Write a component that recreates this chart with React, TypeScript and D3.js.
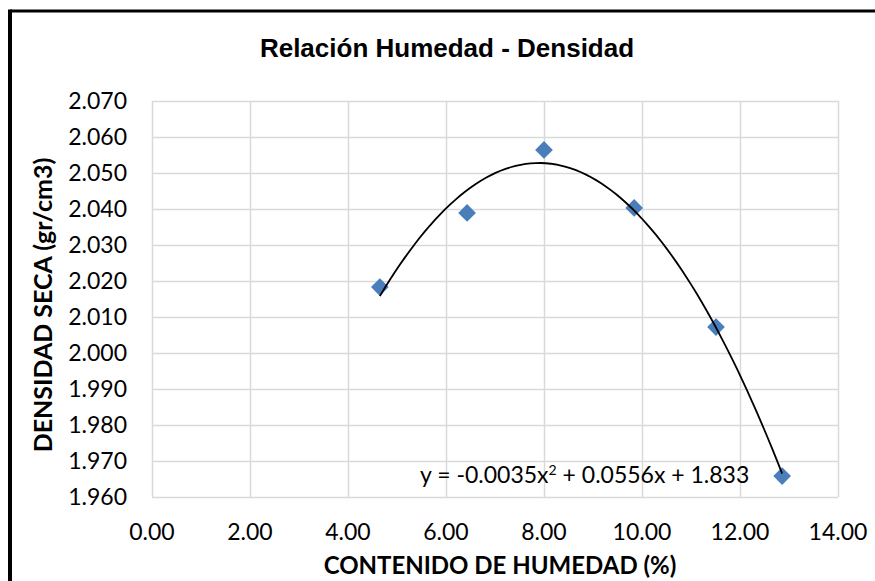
import React from "react";
import * as d3 from "d3";

// measured points (humedad %, densidad seca)
const humedad = [4.65, 6.43, 8.0, 9.84, 11.51, 12.86];
const densidad = [2.0183, 2.0389, 2.0564, 2.0403, 2.0072, 1.9658];

const xTicks = [0, 2, 4, 6, 8, 10, 12, 14];
const yTicks = [1.96, 1.97, 1.98, 1.99, 2.0, 2.01, 2.02, 2.03, 2.04, 2.05, 2.06, 2.07];

const W = 875;
const H = 581;
const plot = { left: 152, right: 838, top: 101, bottom: 497 };

// least squares quadratic fit, like the spreadsheet trendline
function fitQuadratic(xs: number[], ys: number[]) {
  const s = [0, 0, 0, 0, 0];
  const t = [0, 0, 0];
  xs.forEach((xv, i) => {
    for (let k = 0; k < 5; k++) s[k] += Math.pow(xv, k);
    for (let k = 0; k < 3; k++) t[k] += ys[i] * Math.pow(xv, k);
  });
  // matrix for [c, b, a]
  const m = [
    [s[0], s[1], s[2], t[0]],
    [s[1], s[2], s[3], t[1]],
    [s[2], s[3], s[4], t[2]],
  ];
  for (let i = 0; i < 3; i++) {
    for (let j = i + 1; j < 3; j++) {
      const f = m[j][i] / m[i][i];
      for (let k = i; k < 4; k++) m[j][k] -= f * m[i][k];
    }
  }
  const r = [0, 0, 0];
  for (let i = 2; i >= 0; i--) {
    let v = m[i][3];
    for (let k = i + 1; k < 3; k++) v -= m[i][k] * r[k];
    r[i] = v / m[i][i];
  }
  return { c: r[0], b: r[1], a: r[2] };
}

export default function App() {
  const x = d3.scaleLinear().domain([0, 14]).range([plot.left, plot.right]);
  const y = d3.scaleLinear().domain([1.96, 2.07]).range([plot.bottom, plot.top]);

  const fit = fitQuadratic(humedad, densidad);
  const x0 = d3.min(humedad) as number;
  const x1 = d3.max(humedad) as number;
  const trend = d3.range(0, 81).map((i) => {
    const xv = x0 + ((x1 - x0) * i) / 80;
    return [xv, fit.a * xv * xv + fit.b * xv + fit.c];
  });
  const line = d3
    .line<number[]>()
    .x((d) => x(d[0]))
    .y((d) => y(d[1]));

  const diamond = d3.symbol().type(d3.symbolDiamond2).size(200)();

  const tickFont = "Lato, 'Open Sans', sans-serif";

  return (
    <svg
      width={W}
      height={H}
      style={{ position: "absolute", left: 0, top: 0, background: "#fff" }}
    >
      {/* outer frame */}
      <rect x={0} y={0} width={W} height={H} fill="#fff" />
      <line x1={10} y1={11} x2={W} y2={11} stroke="#000" strokeWidth={3} />
      <line x1={10} y1={9.5} x2={10} y2={H} stroke="#000" strokeWidth={4} />

      <text
        x={447}
        y={57}
        textAnchor="middle"
        fontFamily="Arial, 'Liberation Sans', sans-serif"
        fontWeight="bold"
        fontSize={26}
      >
        Relación Humedad - Densidad
      </text>

      {/* grid */}
      {yTicks.map((t) => (
        <line
          key={"gy" + t}
          x1={plot.left}
          x2={plot.right}
          y1={Math.round(y(t)) + 0.5}
          y2={Math.round(y(t)) + 0.5}
          stroke="#d9d9d9"
          strokeWidth={1.5}
        />
      ))}
      {xTicks.map((t) => (
        <line
          key={"gx" + t}
          x1={Math.round(x(t)) + 0.5}
          x2={Math.round(x(t)) + 0.5}
          y1={plot.top}
          y2={plot.bottom}
          stroke="#d9d9d9"
          strokeWidth={1.5}
        />
      ))}

      {/* tick labels */}
      {yTicks.map((t) => (
        <text
          key={"ly" + t}
          x={127}
          y={y(t)}
          dy="0.35em"
          textAnchor="end"
          fontFamily={tickFont}
          fontSize={23}
        >
          {d3.format(".3f")(t)}
        </text>
      ))}
      {xTicks.map((t) => (
        <text
          key={"lx" + t}
          x={x(t)}
          y={532}
          dy="0.35em"
          textAnchor="middle"
          fontFamily={tickFont}
          fontSize={23}
        >
          {d3.format(".2f")(t)}
        </text>
      ))}

      {/* axis titles */}
      <text
        x={500}
        y={566}
        dy="0.35em"
        textAnchor="middle"
        fontFamily={tickFont}
        fontWeight="bold"
        fontSize={24}
      >
        CONTENIDO DE HUMEDAD (%)
      </text>
      <text
        transform={`translate(43, 305) rotate(-90)`}
        dy="0.35em"
        textAnchor="middle"
        fontFamily={tickFont}
        fontWeight="bold"
        fontSize={25}
      >
        DENSIDAD SECA (gr/cm3)
      </text>

      {/* points */}
      {humedad.map((h, i) => (
        <path
          key={"p" + i}
          d={diamond as string}
          transform={`translate(${x(h)}, ${y(densidad[i])})`}
          fill="#4a7ebb"
        />
      ))}

      {/* trendline */}
      <path d={line(trend) as string} fill="none" stroke="#000" strokeWidth={1.8} />

      <text
        x={420}
        y={475}
        dy="0.35em"
        fontFamily={tickFont}
        fontSize={23}
      >
        y = -0.0035x<tspan dy="-8" fontSize={14}>2</tspan>
        <tspan dy="8"> + 0.0556x + 1.833</tspan>
      </text>
    </svg>
  );
}
